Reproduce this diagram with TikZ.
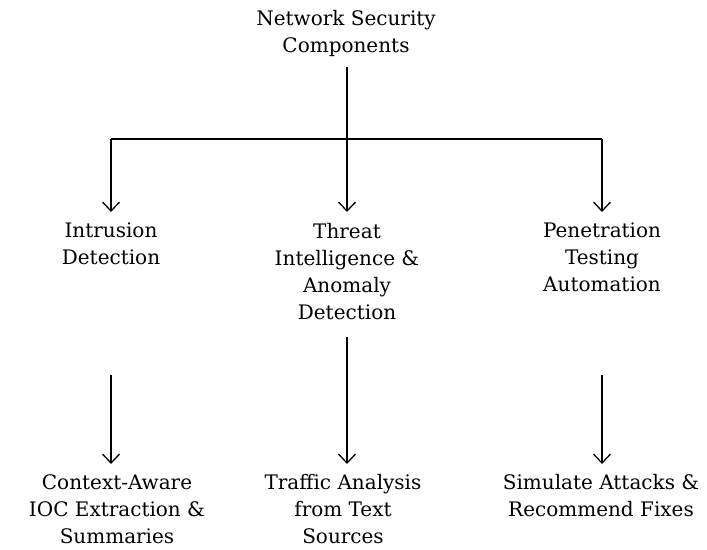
\documentclass[tikz,border=0pt]{standalone}
\usepackage{fontspec}
\setmainfont{DejaVu Serif}
\usetikzlibrary{arrows.meta}

\begin{document}
\begin{tikzpicture}[x=1pt,y=-1pt,
lbl/.style={align=center, inner sep=0pt, anchor=north, font=\fontsize{20}{27}\selectfont},
arr/.style={-{Straight Barb[length=9pt,width=17pt]}, line width=1.3pt},
conn/.style={line width=1.3pt}]

\useasboundingbox (0,0) rectangle (707,549);

\node[lbl](root) at (346,10){Network Security\\Components};

\node[lbl](ids) at (111,223){Intrusion\\Detection};
\node[lbl](threat) at (347,223){Threat\\Intelligence \&\\Anomaly\\Detection};
\node[lbl](pentest) at (602,223){Penetration\\Testing\\Automation};

\node[lbl](ioc) at (117,474){Context-Aware\\IOC Extraction \&\\Summaries};
\node[lbl](traffic) at (343,474){Traffic Analysis\\from Text\\Sources};
\node[lbl](sim) at (601,474){Simulate Attacks \&\\Recommend Fixes};

% junction, arrow starts and arrow ends
\coordinate (top) at (347,67);
\coordinate (split) at (347,139);
\coordinate (l) at (111,139);
\coordinate (r) at (602,139);
\coordinate (ids-in) at (111,212);
\coordinate (threat-in) at (347,212);
\coordinate (pentest-in) at (602,212);
\coordinate (ids-out) at (111,375);
\coordinate (threat-out) at (347,337);
\coordinate (pentest-out) at (602,375);
\coordinate (ioc-in) at (111,464);
\coordinate (traffic-in) at (347,464);
\coordinate (sim-in) at (602,464);

\draw[conn] (top) -- (split);
\draw[conn] (l) -- (r);
\begin{scope}[arr]
\draw (l) -- (ids-in);
\draw (split) -- (threat-in);
\draw (r) -- (pentest-in);
\draw (ids-out) -- (ioc-in);
\draw (threat-out) -- (traffic-in);
\draw (pentest-out) -- (sim-in);
\end{scope}

\end{tikzpicture}
\end{document}
